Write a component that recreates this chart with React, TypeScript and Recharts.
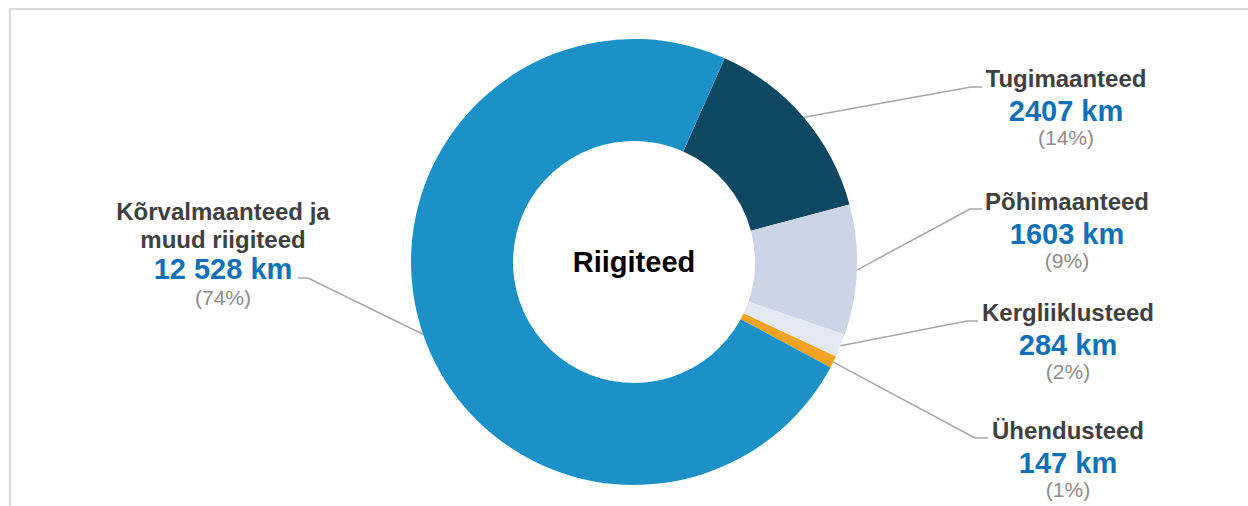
import { PieChart, Pie, Cell } from 'recharts'

const categories = [
  'Tugimaanteed',
  'Põhimaanteed',
  'Kergliiklusteed',
  'Ühendusteed',
  'Kõrvalmaanteed ja\nmuud riigiteed',
]
const lengthsKm = [2407, 1603, 284, 147, 12528]
const sliceColors = ['#0f4863', '#cbd5e6', '#e3e8f2', '#f2a31f', '#1b91c8']
const centerTitle = 'Riigiteed'

// label anchor (name baseline), leader line elbow and end, per slice
const labelLayout = [
  { x: 1066, y: 87, elbowX: 971, endX: 982, lineY: 87 },
  { x: 1067, y: 210, elbowX: 970, endX: 982, lineY: 209 },
  { x: 1068, y: 321, elbowX: 967, endX: 978, lineY: 321 },
  { x: 1068, y: 439, elbowX: 975, endX: 988, lineY: 438 },
  { x: 223, y: 220, elbowX: 308, endX: 298, lineY: 278 },
]

const FONT = '"Liberation Sans", Arial, sans-serif'
const RAD = Math.PI / 180

const data = categories.map((name, i) => ({ name, value: lengthsKm[i] }))

function formatKm(v: number) {
  const s = String(v)
  if (v < 10000) return s + ' km'
  return s.replace(/\B(?=(\d{3})+(?!\d))/g, ' ') + ' km'
}

function renderLabel(props: any) {
  const { cx, cy, midAngle, outerRadius, index, value, percent } = props
  const lay = labelLayout[index]
  const sx = cx + outerRadius * Math.cos(-midAngle * RAD)
  const sy = cy + outerRadius * Math.sin(-midAngle * RAD)
  const lines: string[] = categories[index].split('\n')
  const lineH = 28
  const nameEnd = lay.y + (lines.length - 1) * lineH
  const valueY = lines.length > 1 ? nameEnd + 31 : nameEnd + 34
  const pctY = lines.length > 1 ? nameEnd + 57 : nameEnd + 58
  return (
    <g key={'lbl' + index}>
      {index === 0 && (
        <text x={cx} y={cy + 10} textAnchor="middle" fill="#000" fontFamily={FONT} fontSize={29} fontWeight="bold">
          {centerTitle}
        </text>
      )}
      <polyline
        points={`${sx},${sy} ${lay.elbowX},${lay.lineY} ${lay.endX},${lay.lineY}`}
        fill="none"
        stroke="#a6a6a6"
        strokeWidth={1.5}
      />
      {lines.map((ln, j) => (
        <text key={j} x={lay.x} y={lay.y + j * lineH} textAnchor="middle" fill="#404040"
          fontFamily={FONT} fontSize={24} fontWeight="bold">
          {ln}
        </text>
      ))}
      <text x={lay.x} y={valueY} textAnchor="middle" fill="#1070b8" fontFamily={FONT} fontSize={29} fontWeight="bold">
        {formatKm(value)}
      </text>
      <text x={lay.x} y={pctY} textAnchor="middle" fill="#8c8c8c" fontFamily={FONT} fontSize={21}>
        ({Math.round(percent * 100)}%)
      </text>
    </g>
  )
}

export default function App() {
  return (
    <div style={{ position: 'fixed', left: 0, top: 0, width: 1248, height: 506, background: '#fff', overflow: 'hidden' }}>
      <div style={{ position: 'absolute', left: 9, top: 8, right: -4, bottom: -4, borderTop: '2px solid #d9d9d9', borderLeft: '2px solid #d9d9d9' }} />
      <div style={{ position: 'absolute', left: 0, top: 0 }}>
        <PieChart width={1248} height={506} margin={{ top: 0, right: 0, bottom: 0, left: 0 }}>
          <Pie
            data={data}
            dataKey="value"
            nameKey="name"
            cx={634}
            cy={262}
            innerRadius={121}
            outerRadius={223}
            startAngle={66}
            endAngle={-294}
            stroke="none"
            isAnimationActive={false}
            labelLine={false}
            label={renderLabel}
          >
            {data.map((d, i) => (
              <Cell key={d.name} fill={sliceColors[i]} />
            ))}
          </Pie>
        </PieChart>
      </div>
    </div>
  )
}
